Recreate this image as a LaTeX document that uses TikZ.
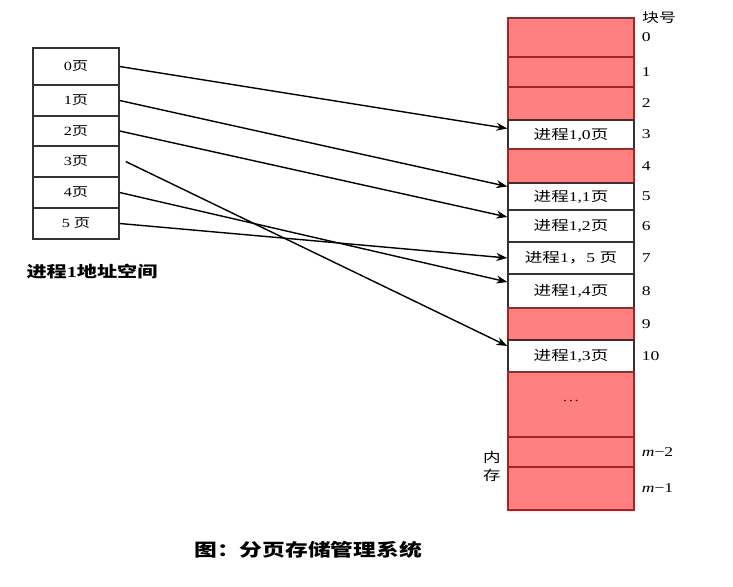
\documentclass[tikz,border=0pt]{standalone}
\usepackage{fontspec}
\setmainfont[FakeStretch=1.3]{Liberation Serif}
\newfontfamily\cjk[FakeStretch=1.3]{Noto Sans CJK SC}
\newcommand\zh[1]{{\cjk #1}}
\usetikzlibrary{positioning,arrows.meta}
\definecolor{usedred}{RGB}{255,128,128}
\definecolor{usededge}{RGB}{165,35,35}

\begin{document}
\begin{tikzpicture}[x=1pt,y=-1pt,
    cell/.style={draw=black!80, line width=1.3pt, minimum width=86pt, minimum height=31pt,
        inner sep=0pt, font=\fontsize{12.5}{14}\selectfont},
    blk/.style={draw=black!80, line width=1.3pt, minimum width=126pt, inner sep=0pt,
        font=\fontsize{13.5}{15}\selectfont},
    busy/.style={blk, fill=usedred, draw=usededge},
    num/.style={inner sep=0pt, font=\fontsize{13.5}{15}\selectfont},
    arr/.style={-{Stealth[length=11pt,width=8pt]}, line width=1.4pt}]
    \useasboundingbox (0,0) rectangle (733,586);

    \node[cell, minimum height=37pt] (p0) at (76,66.5) {0\zh{页}};
    \node[cell] (p1) at (76,100.5) {1\zh{页}};
    \node[cell, minimum height=30pt] (p2) at (76,131) {2\zh{页}};
    \node[cell] (p3) at (76,161.5) {3\zh{页}};
    \node[cell] (p4) at (76,192.5) {4\zh{页}};
    \node[cell] (p5) at (76,223.5) {5 \zh{页}};
    \node[font=\fontsize{15.5}{17}\selectfont\bfseries] (space) at (92,272) {\zh{进程}1\zh{地址空间}};

    \node[busy, minimum height=39pt] (m0) at (571,37.5) {};
    \node[busy, minimum height=30pt] (m1) at (571,72) {};
    \node[busy, minimum height=33pt] (m2) at (571,103.5) {};
    \node[blk, minimum height=29pt] (m3) at (571,134.5) {\zh{进程}1,0\zh{页}};
    \node[busy, minimum height=34pt] (m4) at (571,166) {};
    \node[blk, minimum height=27pt] (m5) at (571,196.5) {\zh{进程}1,1\zh{页}};
    \node[blk, minimum height=32pt] (m6) at (571,226) {\zh{进程}1,2\zh{页}};
    \node[blk, minimum height=32pt] (m7) at (571,258) {\zh{进程}1\zh{，}5 \zh{页}};
    \node[blk, minimum height=34pt] (m8) at (571,291) {\zh{进程}1,4\zh{页}};
    \node[busy, minimum height=32pt] (m9) at (571,324) {};
    \node[blk, minimum height=32pt] (m10) at (571,356) {\zh{进程}1,3\zh{页}};
    \node[busy, minimum height=65pt, text=usededge!50!black] (mdots) at (571,404.5) {\raisebox{3pt}{···}};
    \node[busy, minimum height=30pt] (mm2) at (571,452) {};
    \node[busy, minimum height=43pt] (mm1) at (571,488.5) {};

    \foreach \b/\t in {m0/0,m1/1,m2/2,m3/3,m4/4,m5/5,m6/6,m7/7,m8/8,m9/9,m10/10,mm2/\textit{m}−2,mm1/\textit{m}−1}
        \node[num, right=7pt of \b] (n\b) {\t};
    \node[num, anchor=west, font=\fontsize{13}{14}\selectfont\cjk] (blockno) at (642,18) {块号};
    \node[num, align=center, font=\fontsize{13.5}{18}\selectfont\cjk] (memory) at (492,466) {内\\存};

    \draw[arr] (p0.east) -- ([yshift=6pt]m3.west);
    \draw[arr] (p1.east) -- ([yshift=10pt]m5.west);
    \draw[arr] (p2.east) -- ([yshift=9pt]m6.west);
    \draw[arr] ([xshift=6pt]p3.east) -- ([yshift=10pt]m10.west);
    \draw[arr] (p4.east) -- ([yshift=9pt]m8.west);
    \draw[arr] (p5.east) -- (m7.west);

    \node[font=\fontsize{17.5}{20}\selectfont\bfseries\cjk] (caption) at (308,550) {图：分页存储管理系统};
\end{tikzpicture}
\end{document}
